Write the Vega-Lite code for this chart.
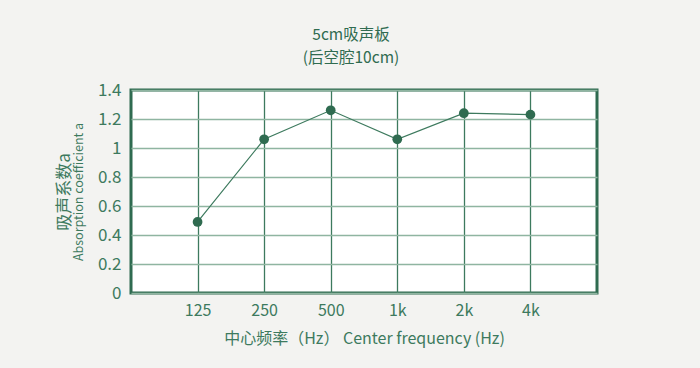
{
  "$schema": "https://vega.github.io/schema/vega-lite/v6.json",
  "autosize": "none",
  "width": 466,
  "height": 203,
  "padding": {"left": 131, "top": 90, "right": 103, "bottom": 75},
  "background": "#f3f3f1",
  "title": {
    "text": ["5cm吸声板", "(后空腔10cm)"],
    "anchor": "middle",
    "dx": -13,
    "offset": 15,
    "font": "Noto Sans CJK SC",
    "fontSize": 15.5,
    "lineHeight": 23,
    "fontWeight": "normal",
    "color": "#2f6b50"
  },
  "config": {
    "view": {"fill": "white", "stroke": "#2f6b50", "strokeWidth": 3},
    "axis": {"labelFont": "Noto Sans CJK SC", "titleFont": "Noto Sans CJK SC", "labelColor": "#3d7a5e", "titleColor": "#3d7a5e", "titleFontWeight": "normal", "ticks": false, "domain": false}
  },
  "data": {
    "values": [
      {"freq": "125", "a": 0.49},
      {"freq": "250", "a": 1.06},
      {"freq": "500", "a": 1.26},
      {"freq": "1k", "a": 1.06},
      {"freq": "2k", "a": 1.24},
      {"freq": "4k", "a": 1.23}
    ]
  },
  "encoding": {
    "x": {
      "field": "freq",
      "type": "ordinal",
      "sort": null,
      "scale": {"type": "point", "padding": 1},
      "axis": {
        "title": "中心频率（Hz） Center frequency (Hz)",
        "labelAngle": 0,
        "labelFontSize": 16,
        "labelPadding": 9,
        "titleFontSize": 16,
        "titlePadding": 12,
        "grid": true,
        "gridColor": "#3d7a5e",
        "gridWidth": 1.3,
        "gridOpacity": 1
      }
    }
  },
  "layer": [
    {
      "mark": {"type": "line", "color": "#3d7a5e", "strokeWidth": 1.2},
      "encoding": {
        "y": {
          "field": "a",
          "type": "quantitative",
          "scale": {"domain": [0, 1.4], "nice": false},
          "axis": {
            "orient": "left",
            "values": [0, 0.2, 0.4, 0.6, 0.8, 1, 1.2, 1.4],
            "format": "~g",
            "labelFontSize": 17,
            "labelPadding": 10,
            "title": "Absorption coefficient a",
            "titleFontSize": 12.5,
            "titlePadding": 12,
            "grid": true,
            "gridColor": "#8fb5a1",
            "gridWidth": 1.5,
            "gridOpacity": 1
          }
        }
      }
    },
    {
      "mark": {"type": "point", "filled": true, "color": "#2f6b50", "size": 95, "opacity": 1},
      "encoding": {
        "y": {
          "field": "a",
          "type": "quantitative",
          "scale": {"domain": [0, 1.4], "nice": false},
          "axis": {
            "orient": "left",
            "labels": false,
            "grid": false,
            "title": "吸声系数a",
            "titleFontSize": 17,
            "titlePadding": 58
          }
        }
      }
    }
  ],
  "resolve": {"axis": {"y": "independent"}}
}
